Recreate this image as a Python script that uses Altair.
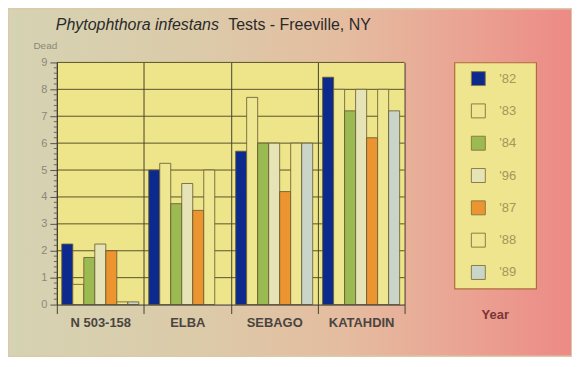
import altair as alt
import pandas as pd

# ---- data ----
categories = ["N 503-158", "ELBA", "SEBAGO", "KATAHDIN"]
years = ["'82", "'83", "'84", "'96", "'87", "'88", "'89"]
dead_82 = [2.25, 5.0, 5.7, 8.45]
dead_83 = [0.75, 5.25, 7.7, 8.0]
dead_84 = [1.75, 3.75, 6.0, 7.2]
dead_96 = [2.25, 4.5, 6.0, 8.0]
dead_87 = [2.0, 3.5, 4.2, 6.2]
dead_88 = [0.1, 5.0, 6.0, 8.0]
dead_89 = [0.1, None, 6.0, 7.2]
year_colors = ["#0c2a8e", "#efe692", "#9cba52", "#e6e4b6", "#ec9430", "#efe692", "#c9d5c8"]
y_tick_values = [0, 1, 2, 3, 4, 5, 6, 7, 8, 9]
grid_values = [1, 2, 3, 4, 5, 6, 7, 8, 9]
minor_tick_values = [i / 5 for i in range(46) if i % 5]
title_italic = "Phytophthora infestans"
title_rest = "Tests - Freeville, NY"
y_title = "Dead"
legend_title = "Year"

series = [dead_82, dead_83, dead_84, dead_96, dead_87, dead_88, dead_89]
rows = []
for yr, vals in zip(years, series):
    for cat, v in zip(categories, vals):
        if v is not None:
            rows.append({"cat": cat, "year": yr, "v": v})
df = pd.DataFrame(rows)

W, H = 349, 243
one = pd.DataFrame({"k": [0]})

yscale = alt.Scale(domain=[0, 9], nice=False, zero=True)
yaxis = alt.Axis(
    values=y_tick_values, title=y_title, titleAngle=0, titleX=-24, titleY=-17,
    titleAlign="left", titleBaseline="middle", titleFontSize=10, titleFontWeight="normal",
    titleColor="#8a8878", labelColor="#8a8878", labelFontSize=11, tickSize=7,
    tickColor="#555548", domainColor="#3a3830", grid=False, zindex=1, labelPadding=3,
)
color_scale = alt.Scale(domain=years, range=year_colors)

bg = alt.Chart(one).mark_rect(
    fill=alt.LinearGradient(
        gradient="linear", x1=0, y1=0, x2=1, y2=0,
        stops=[
            alt.GradientStop(color="#d5d3b3", offset=0),
            alt.GradientStop(color="#dccaa8", offset=0.35),
            alt.GradientStop(color="#e5bca0", offset=0.6),
            alt.GradientStop(color="#eaa292", offset=0.82),
            alt.GradientStop(color="#ed8a86", offset=1),
        ],
    )
).encode(x=alt.value(-48), x2=alt.value(516), y=alt.value(-53), y2=alt.value(294))

plotfill = alt.Chart(one).mark_rect(fill="#eee48a").encode(
    x=alt.value(0), x2=alt.value(W), y=alt.value(0), y2=alt.value(H)
)

grid = alt.Chart(pd.DataFrame({"v": grid_values})).mark_rule(color="#5a5428", strokeWidth=1).encode(
    y=alt.Y("v:Q", scale=yscale, axis=yaxis), x=alt.value(0), x2=alt.value(W)
)

minor = alt.Chart(pd.DataFrame({"v": minor_tick_values})).mark_rule(color="#6a6a5c", strokeWidth=1).encode(
    y=alt.Y("v:Q", scale=yscale, axis=yaxis), x=alt.value(-3), x2=alt.value(0)
)

bars = alt.Chart(df).mark_bar(stroke="#62582e", strokeWidth=0.8).encode(
    x=alt.X(
        "cat:N", sort=categories, scale=alt.Scale(paddingInner=0, paddingOuter=0),
        axis=alt.Axis(
            title=None, labelAngle=0, tickBand="extent", grid=True, gridColor="#46422e",
            gridOpacity=1, tickSize=9, tickColor="#46422e", domainColor="#3a3830",
            labelFontSize=13, labelFontWeight="bold", labelColor="#4a4540", labelPadding=3,
            zindex=1,
        ),
    ),
    xOffset=alt.XOffset("year:N", sort=years, scale=alt.Scale(paddingInner=0, paddingOuter=0.45)),
    y=alt.Y("v:Q", scale=yscale, axis=yaxis),
    color=alt.Color("year:N", sort=years, scale=color_scale, legend=None),
)

t1 = alt.Chart(pd.DataFrame({"t": [title_italic]})).mark_text(
    align="left", baseline="middle", fontSize=16, fontStyle="italic", color="#2a2a2a"
).encode(text="t:N", x=alt.value(-1), y=alt.value(-38))

t2 = alt.Chart(pd.DataFrame({"t": [title_rest]})).mark_text(
    align="left", baseline="middle", fontSize=16, color="#2a2a2a"
).encode(text="t:N", x=alt.value(172), y=alt.value(-38))

main = alt.layer(bg, plotfill, grid, minor, bars, t1, t2).properties(
    width=W, height=H, view=alt.ViewBackground(stroke="transparent")
)

leg_df = pd.DataFrame({"year": years})
ly = alt.Y("year:N", sort=years, scale=alt.Scale(type="point", padding=0.5), axis=None)
squares = alt.Chart(leg_df).mark_square(size=196, opacity=1, filled=True, stroke="#8c7c40", strokeWidth=1).encode(
    y=ly, x=alt.value(24), color=alt.Color("year:N", sort=years, scale=color_scale, legend=None)
)
labels = alt.Chart(leg_df).mark_text(align="left", baseline="middle", fontSize=13, color="#a09858").encode(
    y=ly, x=alt.value(45), text="year:N"
)
year_t = alt.Chart(pd.DataFrame({"t": [legend_title]})).mark_text(
    align="center", baseline="middle", fontSize=13, fontWeight="bold", color="#7a3535"
).encode(text="t:N", x=alt.value(41), y=alt.value(253))

legend_panel = alt.layer(squares, labels, year_t).properties(
    width=82, height=227,
    view=alt.ViewBackground(fill="#efe58e", stroke="#b06c3c", strokeWidth=1.2),
)

chart = alt.hconcat(main, legend_panel, spacing=50, bounds="flush").properties(
    padding=0, background="#dcc9a9"
).configure(font="Liberation Sans")

chart.save("out.html", embed_options={"renderer": "svg", "actions": False})
